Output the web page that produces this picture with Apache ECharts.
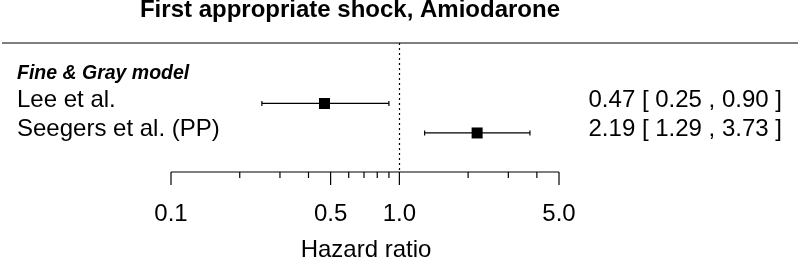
<!DOCTYPE html>
<html>
<head>
<meta charset="utf-8">
<script src="https://cdn.jsdelivr.net/npm/echarts@6/dist/echarts.min.js"></script>
<style>
  html, body { margin: 0; padding: 0; background: #fff; }
  #forest { width: 800px; height: 268px; }
</style>
</head>
<body>
<div id="forest"></div>
<script>
// data
const studies = ['Lee et al.', 'Seegers et al. (PP)'];
const estimates = [0.47, 2.19];
const lower = [0.25, 1.29];
const upper = [0.90, 3.73];
const rowIndex = [2, 3];
const groupLabel = 'Fine & Gray model';
const majorTicks = [0.1, 0.5, 1, 5];
const minorTicks = [0.2, 0.3, 0.4, 0.6, 0.7, 0.8, 0.9, 2, 3, 4];
const tickLabels = ['0.1', '0.5', '1.0', '5.0'];

const font = '"Liberation Sans", Arial, Helvetica, sans-serif';
const yMin = -0.05;
const yMax = 4.323;

var forest = echarts.init(document.getElementById('forest'));

function fmt(v) { return v.toFixed(2); }

function renderStudy(params, api) {
  const i = params.dataIndex;
  const y = api.value(3);
  const pt = api.coord([api.value(0), y]);
  const lo = api.coord([api.value(1), y]);
  const hi = api.coord([api.value(2), y]);
  const s = 11;
  const stroke = { stroke: '#000', lineWidth: 1.2 };
  return {
    type: 'group',
    children: [
      { type: 'line', shape: { x1: lo[0], y1: lo[1], x2: hi[0], y2: hi[1] }, style: stroke },
      { type: 'line', shape: { x1: lo[0], y1: lo[1] - 2.5, x2: lo[0], y2: lo[1] + 2.5 }, style: stroke },
      { type: 'line', shape: { x1: hi[0], y1: hi[1] - 2.5, x2: hi[0], y2: hi[1] + 2.5 }, style: stroke },
      { type: 'rect', shape: { x: pt[0] - s / 2, y: pt[1] - s / 2, width: s, height: s }, style: { fill: '#000' } },
      {
        type: 'text', x: 17, y: pt[1] - 3.5,
        style: { text: studies[i], font: '24px ' + font, fill: '#000', align: 'left', verticalAlign: 'middle' }
      },
      {
        type: 'text', x: 782, y: pt[1] - 3.5,
        style: {
          text: fmt(estimates[i]) + ' [ ' + fmt(lower[i]) + ' , ' + fmt(upper[i]) + ' ]',
          font: '24px ' + font, fill: '#000', align: 'right', verticalAlign: 'middle'
        }
      }
    ]
  };
}

function renderTick(params, api) {
  const v = api.value(0);
  const major = api.value(1) === 1;
  const p = api.coord([v, yMax]);
  const children = [
    { type: 'line', shape: { x1: p[0], y1: p[1], x2: p[0], y2: p[1] + (major ? 13 : 6) }, style: { stroke: '#000', lineWidth: 1.2 } }
  ];
  if (params.dataIndex === 0) {
    const a = api.coord([majorTicks[0], yMax]);
    const b = api.coord([majorTicks[majorTicks.length - 1], yMax]);
    children.push({ type: 'line', shape: { x1: a[0], y1: a[1], x2: b[0], y2: b[1] }, style: { stroke: '#000', lineWidth: 1.2 } });
  }
  if (major) {
    children.push({
      type: 'text', x: p[0], y: 214.5,
      style: { text: tickLabels[majorTicks.indexOf(v)], font: '24px ' + font, fill: '#000', align: 'center', verticalAlign: 'middle' }
    });
  }
  return { type: 'group', children: children };
}

const option = {
  animation: false,
  grid: { left: 171, right: 241, top: 43, bottom: 96 },
  xAxis: {
    type: 'log', logBase: 10, min: 0.1, max: 5,
    axisLine: { show: false }, axisTick: { show: false }, axisLabel: { show: false }, splitLine: { show: false }
  },
  yAxis: {
    type: 'value', min: yMin, max: yMax, inverse: true, show: false
  },
  graphic: [
    {
      type: 'text', x: 350, y: 10.5,
      style: { text: 'First appropriate shock, Amiodarone', font: 'bold 24px ' + font, fill: '#000', align: 'center', verticalAlign: 'middle' }
    },
    { type: 'line', shape: { x1: 2, y1: 43, x2: 798, y2: 43 }, style: { stroke: '#000', lineWidth: 1.2 } },
    {
      type: 'text', x: 17, y: 74,
      style: { text: groupLabel, font: 'italic bold 19.5px ' + font, fill: '#000', align: 'left', verticalAlign: 'middle' }
    },
    {
      type: 'text', x: 366, y: 250.5,
      style: { text: 'Hazard ratio', font: '24px ' + font, fill: '#000', align: 'center', verticalAlign: 'middle' }
    }
  ],
  series: [
    {
      type: 'custom',
      renderItem: renderStudy,
      data: estimates.map((e, i) => [e, lower[i], upper[i], rowIndex[i]]),
      markLine: {
        silent: true,
        symbol: 'none',
        label: { show: false },
        lineStyle: { color: '#000', width: 1.2, type: [2, 3] },
        data: [{ xAxis: 1 }]
      }
    },
    {
      type: 'custom',
      renderItem: renderTick,
      data: majorTicks.map(v => [v, 1]).concat(minorTicks.map(v => [v, 0]))
    }
  ]
};

forest.setOption(option);
</script>
</body>
</html>
